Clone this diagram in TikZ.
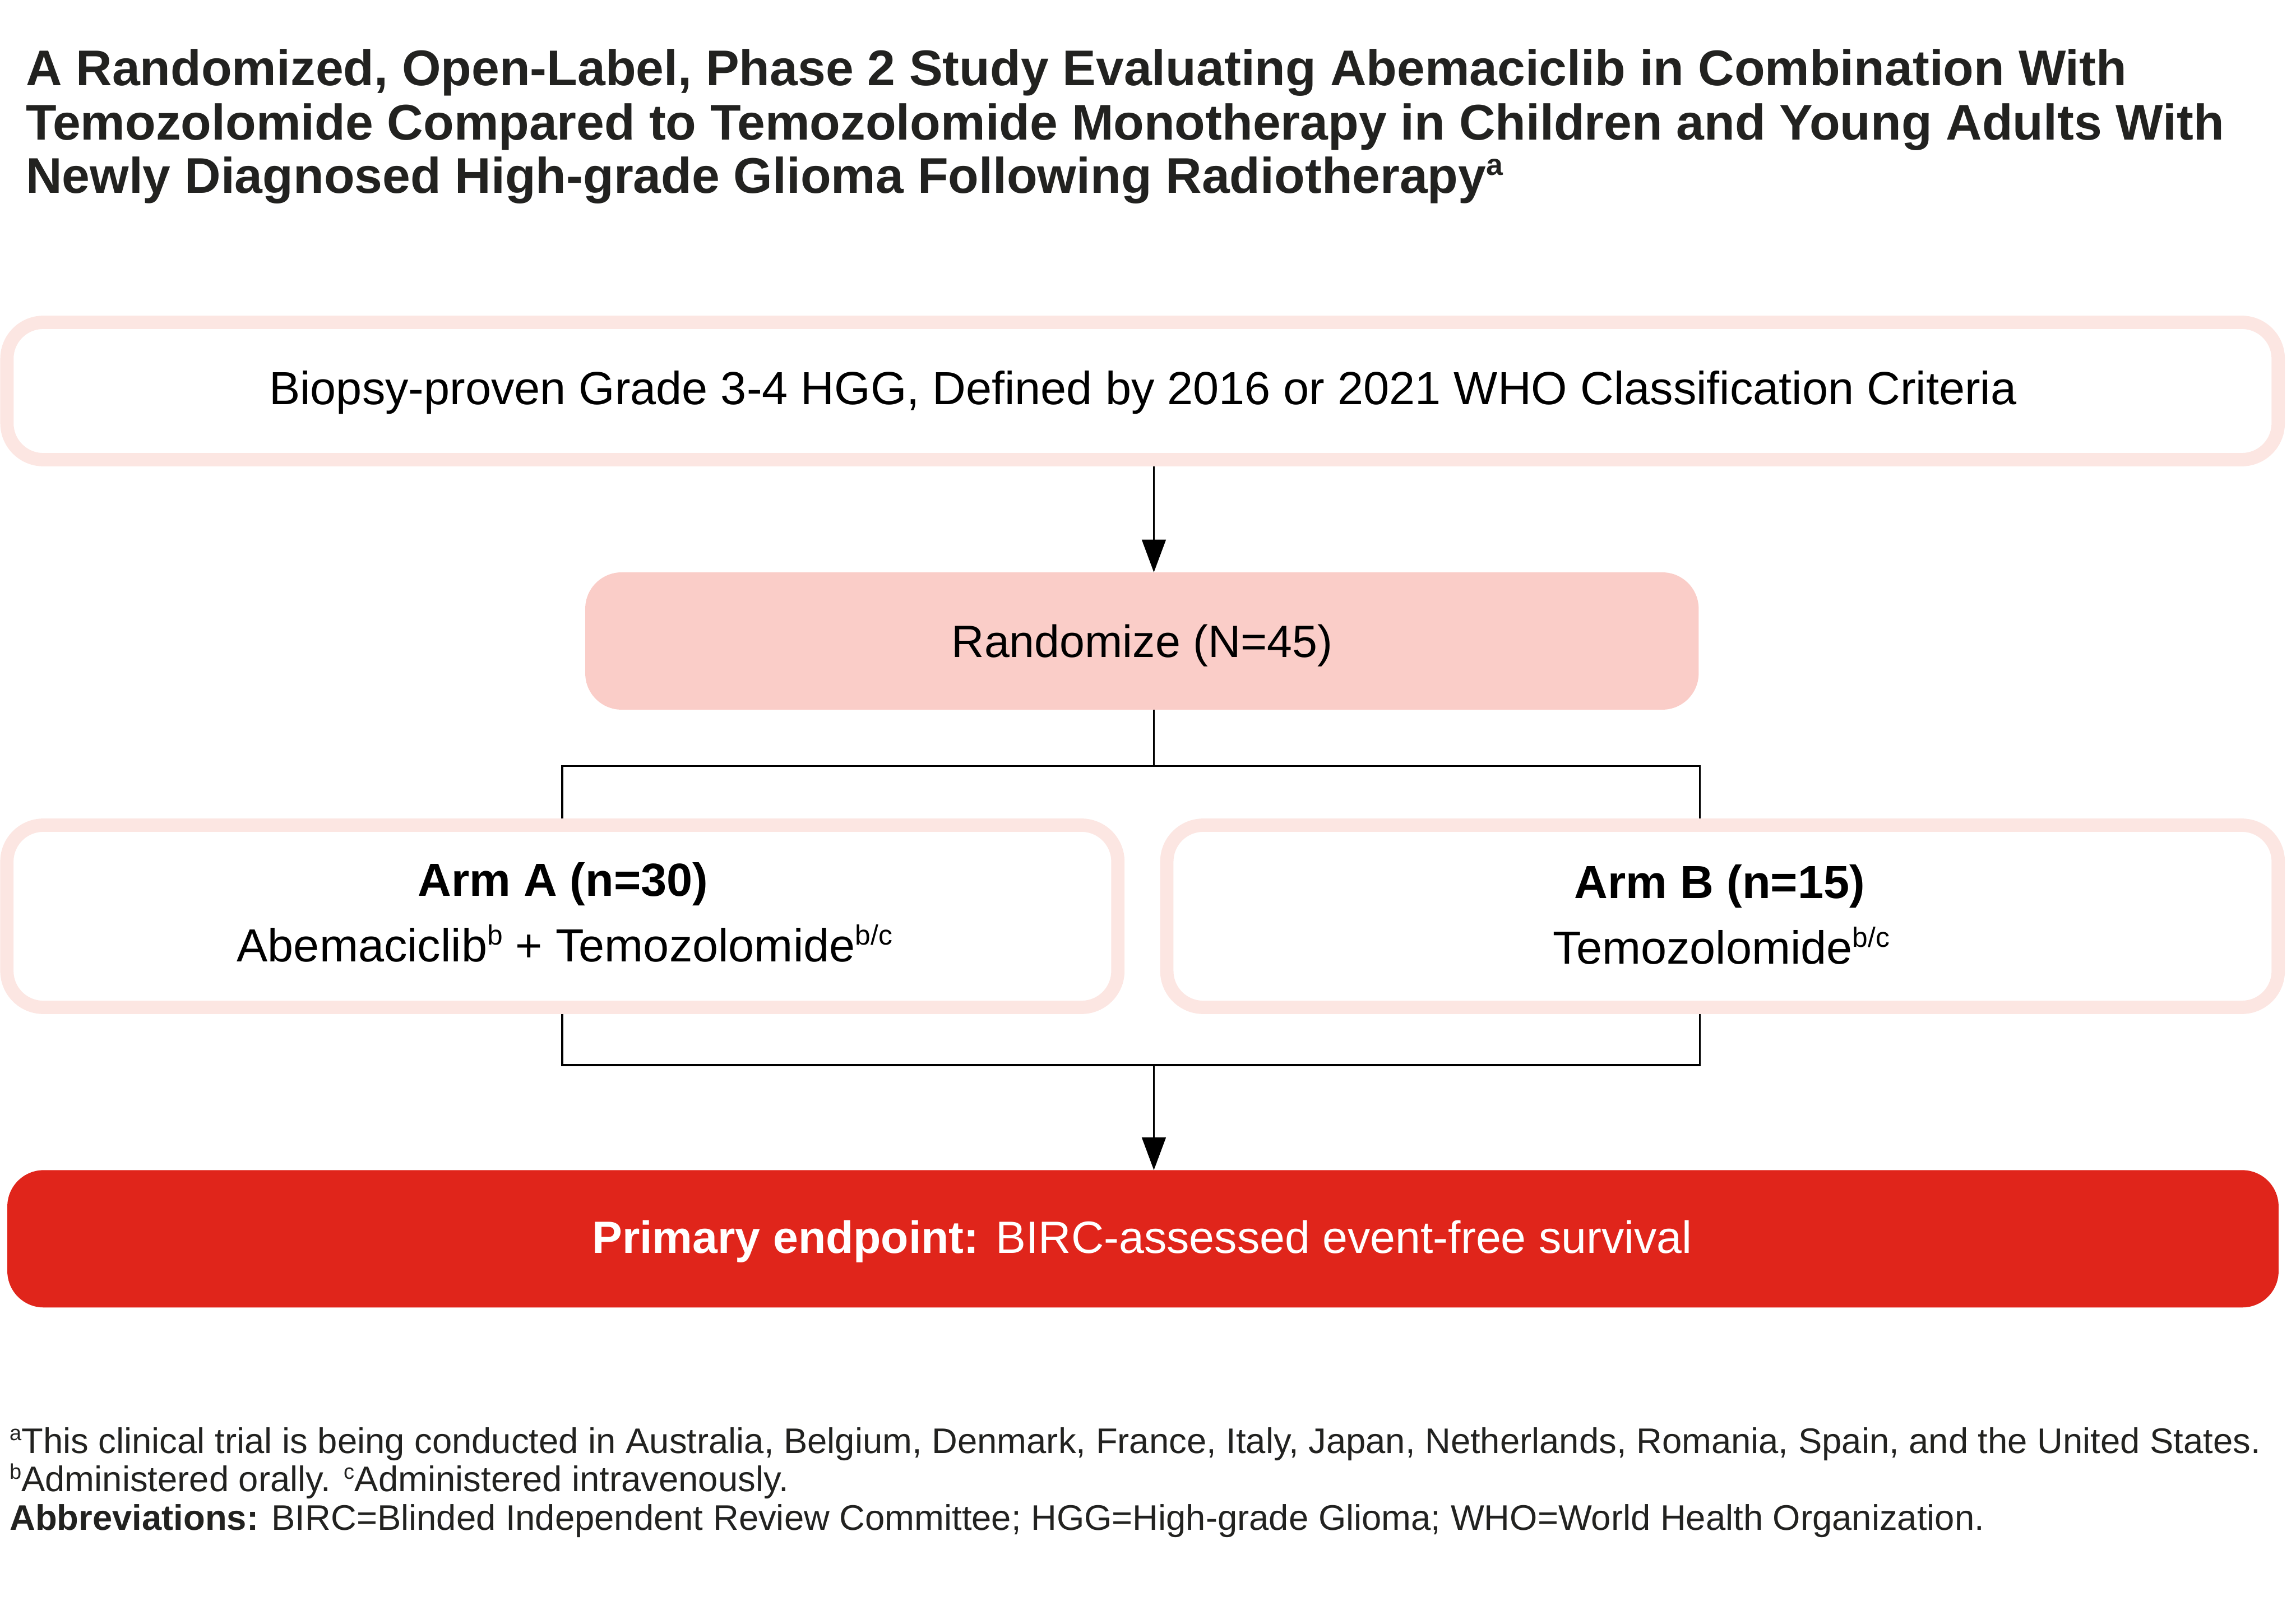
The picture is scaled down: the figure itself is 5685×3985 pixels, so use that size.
\documentclass[tikz,border=0pt]{standalone}
\usepackage{fontspec}
\usepackage{graphicx}
\setmainfont{Liberation Sans}
\usetikzlibrary{arrows.meta}
\definecolor{pinkB}{RGB}{252,230,226}
\definecolor{pinkF}{RGB}{250,205,200}
\definecolor{redF}{RGB}{224,37,27}
\definecolor{ink}{RGB}{34,34,32}
\newcommand\supx[1]{\raisebox{0.36em}{\scalebox{0.6}{#1}}}
\begin{document}
\begin{tikzpicture}[x=0.1pt,y=-0.1pt,
  conn/.style={line width=0.45pt, draw=black},
  arr/.style={conn, -{Triangle[width=5.9pt,length=8.1pt]}},
  outlinebox/.style={draw=pinkB, line width=3.3pt, fill=white, rounded corners=9pt, inner sep=0pt},
  fillbox/.style={fill=#1, draw=none, rounded corners=9pt, inner sep=0pt, outer sep=0pt},
  bodytxt/.style={font=\fontsize{11.5pt}{13pt}\selectfont, text=black, inner sep=0pt, anchor=base},
  titletxt/.style={font=\fontsize{12.42pt}{14pt}\selectfont\bfseries, text=ink, inner sep=0pt, anchor=base west},
  notetxt/.style={font=\fontsize{8.8pt}{10pt}\selectfont, text=ink, inner sep=0pt, anchor=base west}]
\useasboundingbox (0,0) rectangle (5685,3985);

% title
\node[titletxt] (t1) at (62,212) {A Randomized, Open-Label, Phase 2 Study Evaluating Abemaciclib in Combination With};
\node[titletxt] (t2) at (62,346) {Temozolomide Compared to Temozolomide Monotherapy in Children and Young Adults With};
\node[titletxt] (t3) at (62,478) {Newly Diagnosed High-grade Glioma Following Radiotherapy\supx{a}};

% boxes
\node[outlinebox, minimum width=562.4pt, minimum height=34pt] (elig) at (2829,968) {};
\node[fillbox=pinkF, minimum width=275.7pt, minimum height=34pt] (rand) at (2827.5,1587) {};
\node[outlinebox, minimum width=275.1pt, minimum height=45.1pt] (armA) at (1392.5,2268.5) {};
\node[outlinebox, minimum width=275.2pt, minimum height=45.1pt] (armB) at (4265,2268.5) {};
\node[fillbox=redF, minimum width=562.4pt, minimum height=34pt] (prim) at (2830,3067) {};

% box texts
\node[bodytxt] (eligtxt) at (2830,1002) {Biopsy-proven Grade 3-4 HGG, Defined by 2016 or 2021 WHO Classification Criteria};
\node[bodytxt, font=\fontsize{11.2pt}{13pt}\selectfont] (randtxt) at (2828,1627) {Randomize (N=45)};
\node[bodytxt, font=\fontsize{11.5pt}{13pt}\selectfont\bfseries] (armAt1) at (1394,2218) {Arm A (n=30)};
\node[bodytxt] (armAt2) at (1398,2381) {Abemaciclib\supx{b} + Temozolomide\supx{b/c}};
\node[bodytxt, font=\fontsize{11.5pt}{13pt}\selectfont\bfseries] (armBt1) at (4258,2224) {Arm B (n=15)};
\node[bodytxt] (armBt2) at (4262,2386) {Temozolomide\supx{b/c}};
\node[bodytxt, font=\fontsize{11.2pt}{13pt}\selectfont, text=white] (primtxt) at (2828,3103) {\textbf{Primary endpoint:} BIRC-assessed event-free survival};

% connectors
\coordinate (ax) at (2857,0);
\coordinate (bl) at (1392,1897);
\coordinate (br) at (4209,1897);
\coordinate (jl) at (1392,2637);
\coordinate (jr) at (4209,2637);
\draw[arr] (elig.south -| ax) -- (rand.north -| ax);
\draw[conn] (rand.south -| ax) -- (ax |- bl);
\draw[conn] (bl |- armA.north) -- (bl) -- (br) -- (br |- armB.north);
\draw[conn] (jl |- armA.south) -- (jl) -- (jr) -- (jr |- armB.south);
\draw[arr] (ax |- jl) -- (ax |- prim.north);

% footnotes
\node[notetxt] (n1) at (22,3598) {\supx{a}This clinical trial is being conducted in Australia, Belgium, Denmark, France, Italy, Japan, Netherlands, Romania, Spain, and the United States.};
\node[notetxt] (n2) at (22,3693) {\supx{b}Administered orally. \supx{c}Administered intravenously.};
\node[notetxt] (n3) at (22,3788) {\textbf{Abbreviations:} BIRC=Blinded Independent Review Committee; HGG=High-grade Glioma; WHO=World Health Organization.};
\end{tikzpicture}
\end{document}
